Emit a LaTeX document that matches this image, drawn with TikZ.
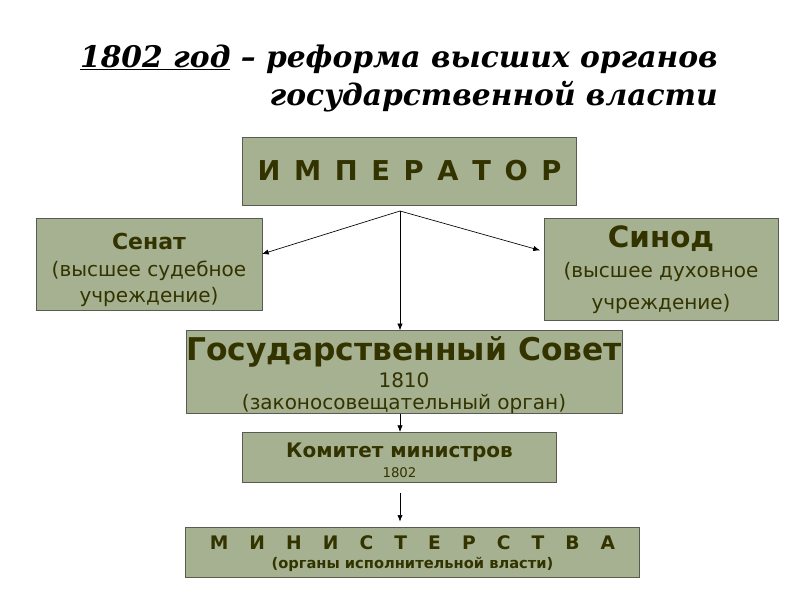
\documentclass[tikz,border=0pt]{standalone}
\usepackage{fontspec}
\setmainfont{DejaVu Sans}
\newfontfamily\titlefont{DejaVu Serif}
\usetikzlibrary{arrows.meta,positioning,calc}
\definecolor{sage}{RGB}{165,177,145}
\definecolor{sageline}{RGB}{88,92,80}
\definecolor{olivetext}{RGB}{51,51,0}
\tikzset{
  organ/.style={draw=sageline, fill=sage, line width=0.6pt, text=olivetext,
                align=center, inner sep=0pt, outer sep=0pt},
  heading/.style={anchor=base east, inner sep=0pt, font=\titlefont\bfseries\itshape\fs{22.3}{28.5}},
  link/.style={-{Latex[length=5pt,width=4pt]}, line width=0.5pt, draw=black},
}
\newcommand{\fs}[2]{\fontsize{#1}{#2}\selectfont}
% first line of a box, given a fixed height
\newcommand{\topline}[2]{\raisebox{0pt}[#1]{#2}}

\begin{document}
\begin{tikzpicture}[x=0.75pt,y=-0.75pt]
    \useasboundingbox (0,0) rectangle (800,600);
    % title
    \node[heading] (title) at (718,67) {\underline{1802 год} – реформа высших органов};
    \node[heading] (title2) at (718,105) {государственной власти};
    % boxes
    \node[organ, minimum width=251pt, minimum height=51pt, font=\bfseries\fs{20.5}{24}] (emp) at (409.5,171)
      {\makebox[228pt][s]{И\hfill М\hfill П\hfill Е\hfill Р\hfill А\hfill Т\hfill О\hfill Р}};
    \node[organ, minimum width=169.5pt, minimum height=69pt, font=\fs{15}{18}] (sen) at (149,264)
      {\topline{21pt}{\bfseries\fs{16.5}{18}Сенат}\\[2.5pt](высшее судебное\\[1.5pt]учреждение)};
    \node[organ, minimum width=175.5pt, minimum height=76.5pt, font=\fs{15}{24}] (syn) at (661,269)
      {\topline{17.5pt}{\bfseries\fs{22}{24}Синод}\\[-2pt](высшее духовное\\учреждение)};
    \node[organ, minimum width=327pt, minimum height=60pt, font=\fs{15}{16.5}] (gos) at (404,372)
      {\topline{23pt}{\bfseries\fs{23.5}{22}Государственный Совет}\\[3.5pt]1810\\(законосовещательный орган)};
    \node[organ, minimum width=236pt, minimum height=37.5pt, font=\fs{10}{13}] (kom) at (399.5,457)
      {\topline{16pt}{\bfseries\fs{15}{15}Комитет министров}\\[2pt]1802};
    \node[organ, minimum width=340pt, minimum height=37.5pt, font=\bfseries\fs{11}{14}] (min) at (412.5,552)
      {\topline{13.2pt}{\fs{14}{15}\makebox[304pt][s]{М\hfill И\hfill Н\hfill И\hfill С\hfill Т\hfill Е\hfill Р\hfill С\hfill Т\hfill В\hfill А}}\\(органы исполнительной власти)};
    % connectors
    \coordinate (split) at (400,211);
    \draw[link] (split) -- ([yshift=7.5pt]sen.east);
    \draw[link] (split) -- ([yshift=14pt,xshift=-3pt]syn.west);
    \draw[link] (split) -- (split |- gos.north);
    \draw[link] (gos.south -| split) -- (split |- kom.north);
    \draw[link, shorten <=8pt, shorten >=4pt] (kom.south -| split) -- (split |- min.north);
\end{tikzpicture}
\end{document}
